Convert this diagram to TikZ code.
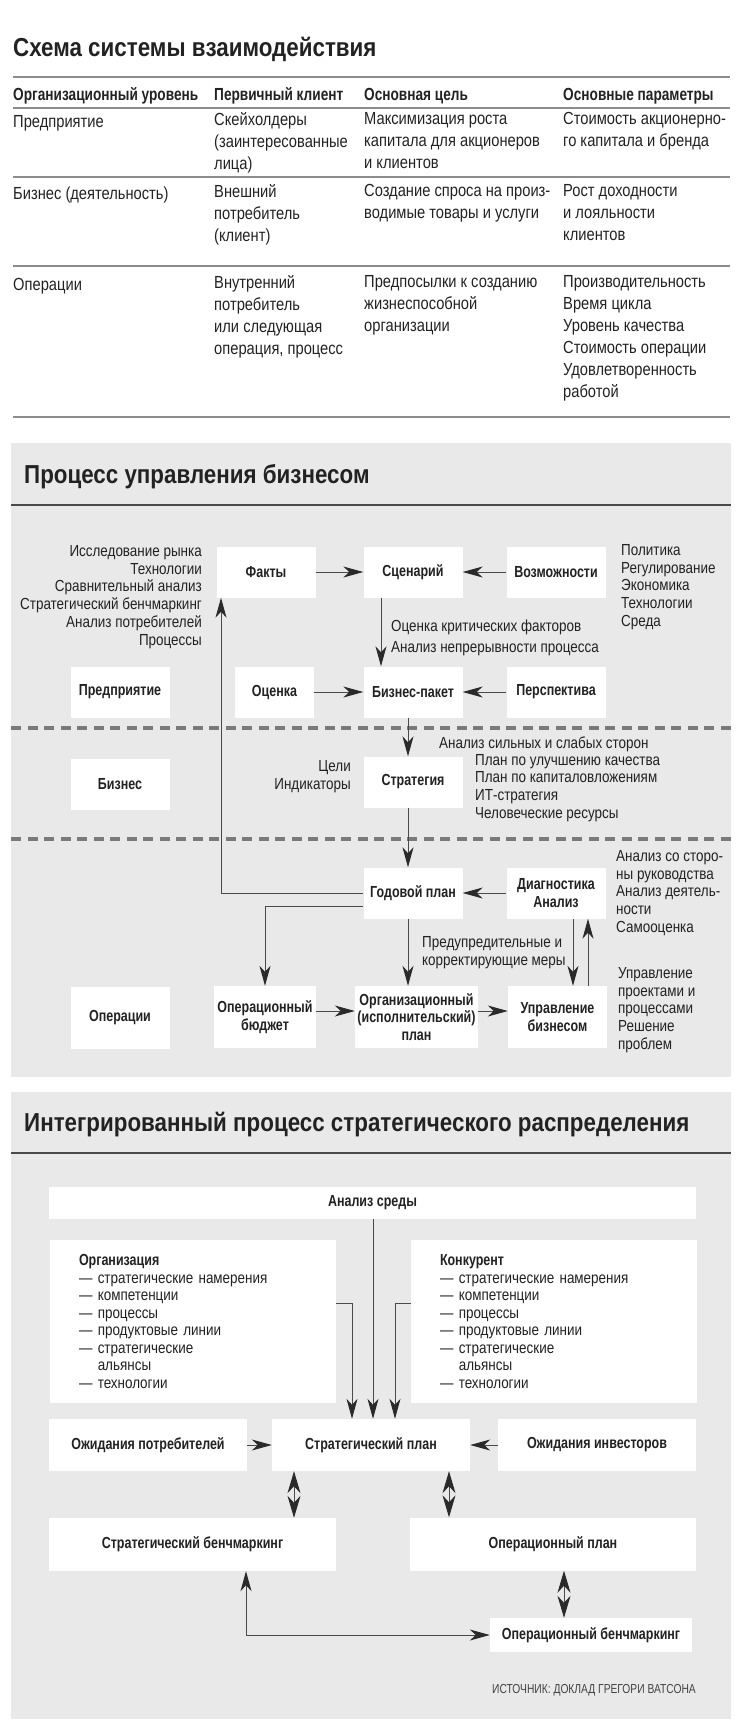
\documentclass[tikz,border=0pt]{standalone}
\usepackage{fontspec}
\setmainfont{Liberation Sans}[FakeStretch=0.84,BoldFeatures={FakeStretch=0.78}]
\newfontfamily\ttlfont{Liberation Sans}[BoldFeatures={FakeStretch=0.86}]
\newfontfamily\srcfont{Liberation Sans}[FakeStretch=0.79]
\usetikzlibrary{arrows.meta,positioning}
\definecolor{cInk}{HTML}{222222}
\definecolor{cLine}{HTML}{4A4A4A}
\definecolor{cTip}{HTML}{2A2A2A}
\definecolor{cRule}{HTML}{8C8C8C}
\definecolor{cHead}{HTML}{4A4A4A}
\definecolor{cPanel}{HTML}{E9E9E9}
\definecolor{cDash}{HTML}{7A7A7A}
\newcommand\tabfont{\fontsize{17.5}{22}\selectfont}
\newcommand\dgfont{\fontsize{16}{17.8}\selectfont}
\newcommand\ttlsize{\fontsize{26}{29}\selectfont}
\tikzset{
  >={Stealth[length=20pt,width=11pt,inset=6pt,color=cTip]},
  ttl/.style   ={anchor=west,inner sep=0pt,font=\ttlfont\ttlsize\bfseries,text=cInk},
  cell/.style  ={anchor=north west,align=left,inner sep=0pt,font=\tabfont,
                 text=cInk,execute at begin node=\strut},
  hcell/.style ={cell,font=\tabfont\bfseries},
  rule/.style  ={cRule,line width=1.1pt},
  hrule/.style ={cHead,line width=1.2pt},
  panel/.style ={fill=cPanel,draw=none},
  sep/.style   ={cDash,line width=3.4pt,dash pattern=on 10pt off 6.5pt},
  box/.style   ={fill=white,inner sep=2pt,align=center,font=\dgfont\bfseries,
                 text=cInk,minimum width=99pt,minimum height=51pt},
  tall/.style  ={minimum height=62pt},
  wide/.style  ={minimum width=198pt,minimum height=52pt},
  lbox/.style  ={fill=white,inner xsep=29pt,inner ysep=0pt,text width=228pt,
                 align=left,minimum height=163pt,font=\fontsize{16}{17.5}\selectfont,text=cInk},
  note/.style  ={inner sep=0pt,font=\dgfont,text=cInk},
  lnote/.style ={note,anchor=west,align=left},
  rnote/.style ={note,anchor=east,align=right},
  src/.style   ={anchor=east,inner sep=0pt,font=\srcfont\fontsize{13}{15}\selectfont,text=cInk!85},
  ar/.style    ={->,cLine,line width=1pt},
  dar/.style   ={{Stealth[length=22pt,width=13pt,inset=7pt,color=cTip]}-{Stealth[length=22pt,width=13pt,inset=7pt,color=cTip]},cLine,line width=1pt},
  lar/.style   ={<->,cLine,line width=1pt},
}
\begin{document}
\begin{tikzpicture}[x=1pt,y=-1pt]
\useasboundingbox (0,0) rectangle (743,1735);
% interaction table
\node[ttl] (t1) at (13,49) {Схема системы взаимодействия};
\draw[rule] (13,77) -- (730,77);
\node[hcell] (h1) at (13,85) {Организационный уровень};
\node[hcell] (h2) at (214,85) {Первичный клиент};
\node[hcell] (h3) at (364,85) {Основная цель};
\node[hcell] (h4) at (563,85) {Основные параметры};
\draw[rule] (13,108) -- (730,108);
\node[cell] (a1) at (13,112) {Предприятие};
\node[cell] (a2) at (214,112) {Скейхолдеры\\(заинтересованные\\лица)};
\node[cell] (a3) at (364,112) {Максимизация роста\\капитала для акционеров\\и клиентов};
\node[cell] (a4) at (563,112) {Стоимость акционерно-\\го капитала и бренда};
\draw[rule] (13,177) -- (730,177);
\node[cell] (b1) at (13,184) {Бизнес (деятельность)};
\node[cell] (b2) at (214,184) {Внешний\\потребитель\\(клиент)};
\node[cell] (b3) at (364,184) {Создание спроса на произ-\\водимые товары и услуги};
\node[cell] (b4) at (563,184) {Рост доходности\\и лояльности\\клиентов};
\draw[rule] (13,266) -- (730,266);
\node[cell] (c1) at (13,275) {Операции};
\node[cell] (c2) at (214,275) {Внутренний\\потребитель\\или следующая\\операция, процесс};
\node[cell] (c3) at (364,275) {Предпосылки к созданию\\жизнеспособной\\организации};
\node[cell] (c4) at (563,275) {Производительность\\Время цикла\\Уровень качества\\Стоимость операции\\Удовлетворенность\\работой};
\draw[rule] (13,417) -- (730,417);

% business management process
\fill[panel] (11,443) rectangle (731,1077);
\node[ttl] (t2) at (24,477) {Процесс управления бизнесом};
\draw[hrule] (11,505) -- (731,505);
\draw[sep] (11,728) -- (731,728);
\draw[sep] (11,839) -- (731,839);
\coordinate (vx0) at (221,0);
\coordinate (vx1) at (381,0);
\coordinate (vx2) at (408,0);
\coordinate (vx3) at (573,0);
\coordinate (vx4) at (588,0);
\node[box] (fct) at (266,572) {Факты};
\node[box] (scn) at (413,572) {Сценарий};
\node[box] (psb) at (556,572) {Возможности};
\node[box,minimum width=79pt] (evl) at (274.5,692) {Оценка};
\node[box] (pkg) at (413,692) {Бизнес-пакет};
\node[box] (prs) at (556,692) {Перспектива};
\node[box] (ent) at (120,692) {Предприятие};
\node[box] (bsn) at (120,784) {Бизнес};
\node[box] (stg) at (413,782) {Стратегия};
\node[box] (ypl) at (413,893) {Годовой план};
\node[box] (dgn) at (556,893) {Диагностика\\Анализ};
\node[box,tall,minimum width=102pt] (obg) at (265,1017) {Операционный\\бюджет};
\node[box,tall,minimum width=123pt] (orp) at (416.5,1017) {Организационный\\(исполнительский)\\план};
\node[box,tall] (ubz) at (557.5,1017) {Управление\\бизнесом};
\node[box,tall] (ops) at (120,1018) {Операции};
\draw[ar] (fct) -- (scn);
\draw[ar] (psb) -- (scn);
\draw[ar] (evl) -- (pkg);
\draw[ar] (prs) -- (pkg);
\draw[ar] (scn.south -| vx1) -- (pkg.north -| vx1);
\draw[ar] (pkg.south -| vx2) -- (stg.north -| vx2);
\draw[ar] (stg.south -| vx2) -- (ypl.north -| vx2);
\draw[ar] (ypl.south -| vx2) -- (orp.north -| vx2);
\draw[ar] (dgn) -- (ypl);
\draw[ar] (ypl.west) -| (fct.south -| vx0);
\draw[ar] ([yshift=-13pt]ypl.west) -| (obg.north);
\draw[ar] (dgn.south -| vx3) -- (ubz.north -| vx3);
\draw[ar] (ubz.north -| vx4) -- (dgn.south -| vx4);
\draw[ar] ([yshift=6pt]obg.east) -- ([yshift=6pt]orp.west);
\draw[ar] ([yshift=6pt]orp.east) -- ([yshift=6pt]ubz.west);
% side notes
\node[rnote] (rsr) at (202,597) {Исследование рынка\\Технологии\\Сравнительный анализ\\Стратегический бенчмаркинг\\Анализ потребителей\\Процессы};
\node[lnote] (envl) at (621,587) {Политика\\Регулирование\\Экономика\\Технологии\\Среда};
\node[lnote,font=\fontsize{16}{21}\selectfont] (crit) at (391,638) {Оценка критических факторов\\Анализ непрерывности процесса};
\node[rnote] (gls) at (351,777) {Цели\\Индикаторы};
\node[lnote] (swot) at (439,744) {Анализ сильных и слабых сторон};
\node[lnote] (plns) at (475,788) {План по улучшению качества\\План по капиталовложениям\\ИТ-стратегия\\Человеческие ресурсы};
\node[lnote] (rvw) at (616,893) {Анализ со сторо-\\ны руководства\\Анализ деятель-\\ности\\Самооценка};
\node[lnote] (msr) at (422,953) {Предупредительные и\\корректирующие меры};
\node[lnote] (prj) at (618,1010) {Управление\\проектами и\\процессами\\Решение\\проблем};

% integrated strategic process
\fill[panel] (11,1092) rectangle (731,1719);
\node[ttl] (t3) at (24,1125) {Интегрированный процесс стратегического распределения};
\draw[hrule] (11,1153) -- (731,1153);
\coordinate (ax1) at (352,0);
\coordinate (ax2) at (373,0);
\coordinate (ax3) at (395,0);
\coordinate (bx0) at (246,0);
\coordinate (bx1) at (294,0);
\coordinate (bx2) at (449,0);
\coordinate (bx3) at (564,0);
\node[box,minimum width=647pt,minimum height=32pt] (env) at (372.5,1203) {Анализ среды};
\node[lbox] (org) at (193,1321.5) {\textbf{Организация}\\— стратегические намерения\\— компетенции\\— процессы\\— продуктовые линии\\— стратегические\\\phantom{— }альянсы\\— технологии};
\node[lbox,text width=228pt] (cmp) at (554,1321.5) {\textbf{Конкурент}\\— стратегические намерения\\— компетенции\\— процессы\\— продуктовые линии\\— стратегические\\\phantom{— }альянсы\\— технологии};
\node[box,wide] (cex) at (148,1445) {Ожидания потребителей};
\node[box,wide] (stp) at (371,1445) {Стратегический план};
\node[box,wide] (iex) at (597,1445) {Ожидания инвесторов};
\node[box,minimum width=287pt,minimum height=53pt] (sbm) at (192.5,1544.5) {Стратегический бенчмаркинг};
\node[box,minimum width=286pt,minimum height=53pt] (opn) at (553,1544) {Операционный план};
\node[box,minimum width=202pt,minimum height=34pt] (obm) at (591,1635) {Операционный бенчмаркинг};
\draw[ar] (env.south -| ax2) -- (stp.north -| ax2);
\draw[ar] ([yshift=18pt]org.east) -| (stp.north -| ax1);
\draw[ar] ([yshift=18pt]cmp.west) -| (stp.north -| ax3);
\draw[ar] (cex) -- (stp);
\draw[ar] (iex) -- (stp);
\draw[dar] (stp.south -| bx1) -- (sbm.north -| bx1);
\draw[dar] (stp.south -| bx2) -- (opn.north -| bx2);
\draw[dar] (opn.south -| bx3) -- (obm.north -| bx3);
\draw[lar] (sbm.south -| bx0) |- (obm.west);
\node[src] (srcn) at (696,1690) {ИСТОЧНИК: ДОКЛАД ГРЕГОРИ ВАТСОНА};
\end{tikzpicture}
\end{document}
